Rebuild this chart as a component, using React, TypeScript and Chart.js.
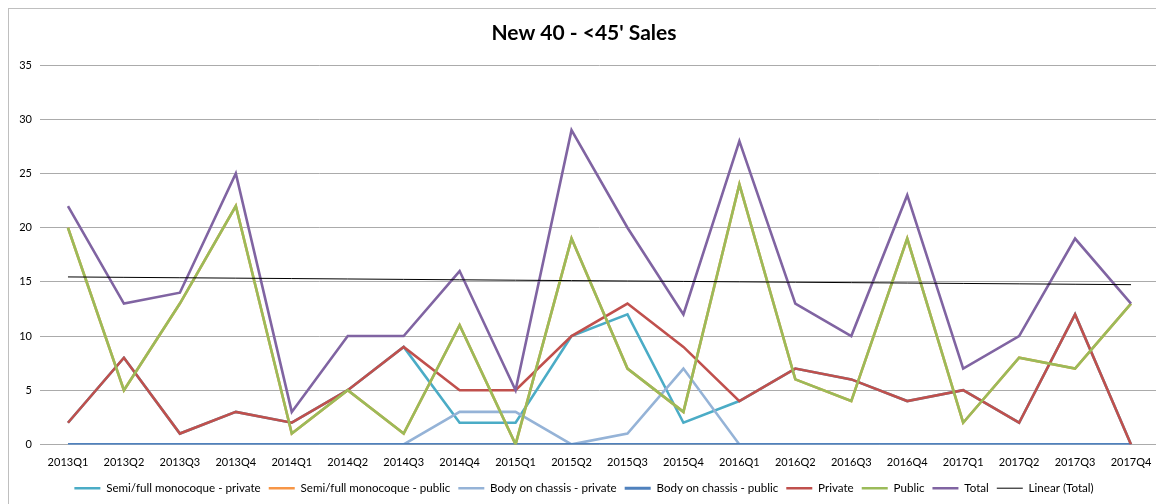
import React, { useEffect, useRef } from "react";
import { Chart, registerables } from "chart.js";

Chart.register(...registerables);

const categories = [
  "2013Q1", "2013Q2", "2013Q3", "2013Q4",
  "2014Q1", "2014Q2", "2014Q3", "2014Q4",
  "2015Q1", "2015Q2", "2015Q3", "2015Q4",
  "2016Q1", "2016Q2", "2016Q3", "2016Q4",
  "2017Q1", "2017Q2", "2017Q3", "2017Q4",
];

const semiPrivate = [2, 8, 1, 3, 2, 5, 9, 2, 2, 10, 12, 2, 4, 7, 6, 4, 5, 2, 12, 0];
const semiPublic = [20, 5, 13, 22, 1, 5, 1, 11, 0, 19, 7, 3, 24, 6, 4, 19, 2, 8, 7, 13];
const bodyPrivate = [0, 0, 0, 0, 0, 0, 0, 3, 3, 0, 1, 7, 0, 0, 0, 0, 0, 0, 0, 0];
const bodyPublic = [0, 0, 0, 0, 0, 0, 0, 0, 0, 0, 0, 0, 0, 0, 0, 0, 0, 0, 0, 0];
const privateSales = [2, 8, 1, 3, 2, 5, 9, 5, 5, 10, 13, 9, 4, 7, 6, 4, 5, 2, 12, 0];
const publicSales = [20, 5, 13, 22, 1, 5, 1, 11, 0, 19, 7, 3, 24, 6, 4, 19, 2, 8, 7, 13];
const totalSales = [22, 13, 14, 25, 3, 10, 10, 16, 5, 29, 20, 12, 28, 13, 10, 23, 7, 10, 19, 13];

const yTicks = [0, 5, 10, 15, 20, 25, 30, 35];

// Least-squares linear trendline of the Total series (Excel "Linear (Total)")
function linearTrend(values: number[]): number[] {
  const n = values.length;
  const xs = values.map((_, i) => i + 1);
  const mx = xs.reduce((a, b) => a + b, 0) / n;
  const my = values.reduce((a, b) => a + b, 0) / n;
  let sxy = 0;
  let sxx = 0;
  for (let i = 0; i < n; i++) {
    sxy += (xs[i] - mx) * (values[i] - my);
    sxx += (xs[i] - mx) * (xs[i] - mx);
  }
  const slope = sxy / sxx;
  return xs.map((x) => my + slope * (x - mx));
}

const FONT = "Lato, 'Open Sans', sans-serif";

export default function App() {
  const canvasRef = useRef<HTMLCanvasElement | null>(null);

  useEffect(() => {
    if (!canvasRef.current) return;
    const mk = (label: string, data: number[], color: string, order: number, width = 2.6) => ({
      label,
      data,
      borderColor: color,
      backgroundColor: color,
      borderWidth: width,
      pointRadius: 0,
      pointHoverRadius: 0,
      tension: 0,
      fill: false,
      order,
      pointStyle: "line" as const,
    });
    const chart = new Chart(canvasRef.current, {
      type: "line",
      data: {
        labels: categories,
        datasets: [
          mk("Semi/full monocoque - private", semiPrivate, "#4bacc6", 8),
          mk("Semi/full monocoque - public", semiPublic, "#f79646", 7),
          mk("Body on chassis - private", bodyPrivate, "#95b3d7", 6),
          mk("Body on chassis - public", bodyPublic, "#4f81bd", 5, 3),
          mk("Private", privateSales, "#c0504d", 4),
          mk("Public", publicSales, "#9bbb59", 3),
          mk("Total", totalSales, "#8064a2", 2),
          mk("Linear (Total)", linearTrend(totalSales), "#000000", 1, 1),
        ],
      },
      options: {
        responsive: false,
        animation: false,
        maintainAspectRatio: false,
        layout: { padding: { left: 0, right: 4, top: 0, bottom: 0 } },
        plugins: {
          tooltip: { enabled: false },
          title: {
            display: true,
            text: "New 40 - <45' Sales",
            color: "#000000",
            font: { family: FONT, size: 21, weight: "bold" },
            padding: { top: 12, bottom: 19 },
          },
          legend: {
            position: "bottom",
            labels: {
              usePointStyle: true,
              pointStyleWidth: 26,
              color: "#000000",
              font: { family: FONT, size: 11.6 },
              padding: 8,
              sort: (a: any, b: any) => a.datasetIndex - b.datasetIndex,
            },
          },
        },
        scales: {
          x: {
            type: "category",
            offset: true,
            grid: { display: false },
            border: { display: false },
            afterFit: (scale: any) => {
              scale.height = 30;
            },
            ticks: {
              color: "#000000",
              font: { family: FONT, size: 11 },
              maxRotation: 0,
              autoSkip: false,
              padding: 3,
            },
          },
          y: {
            min: 0,
            max: 35,
            afterBuildTicks: (scale: any) => {
              scale.ticks = yTicks.map((v) => ({ value: v }));
            },
            afterFit: (scale: any) => {
              scale.width = 31;
            },
            grid: { color: "#ababab", lineWidth: 1, drawTicks: false },
            border: { display: false },
            ticks: {
              color: "#000000",
              font: { family: FONT, size: 11 },
              padding: 8,
            },
          },
        },
      },
    });
    return () => chart.destroy();
  }, []);

  return (
    <div
      style={{
        position: "relative",
        width: 1156,
        height: 496,
        borderTop: "1px solid #bfbfbf",
        borderLeft: "1px solid #bfbfbf",
        borderRight: "1px solid #bfbfbf",
        boxSizing: "border-box",
        background: "#ffffff",
        overflow: "hidden",
      }}
    >
      <canvas ref={canvasRef} width={1154} height={495} style={{ display: "block" }} />
    </div>
  );
}
